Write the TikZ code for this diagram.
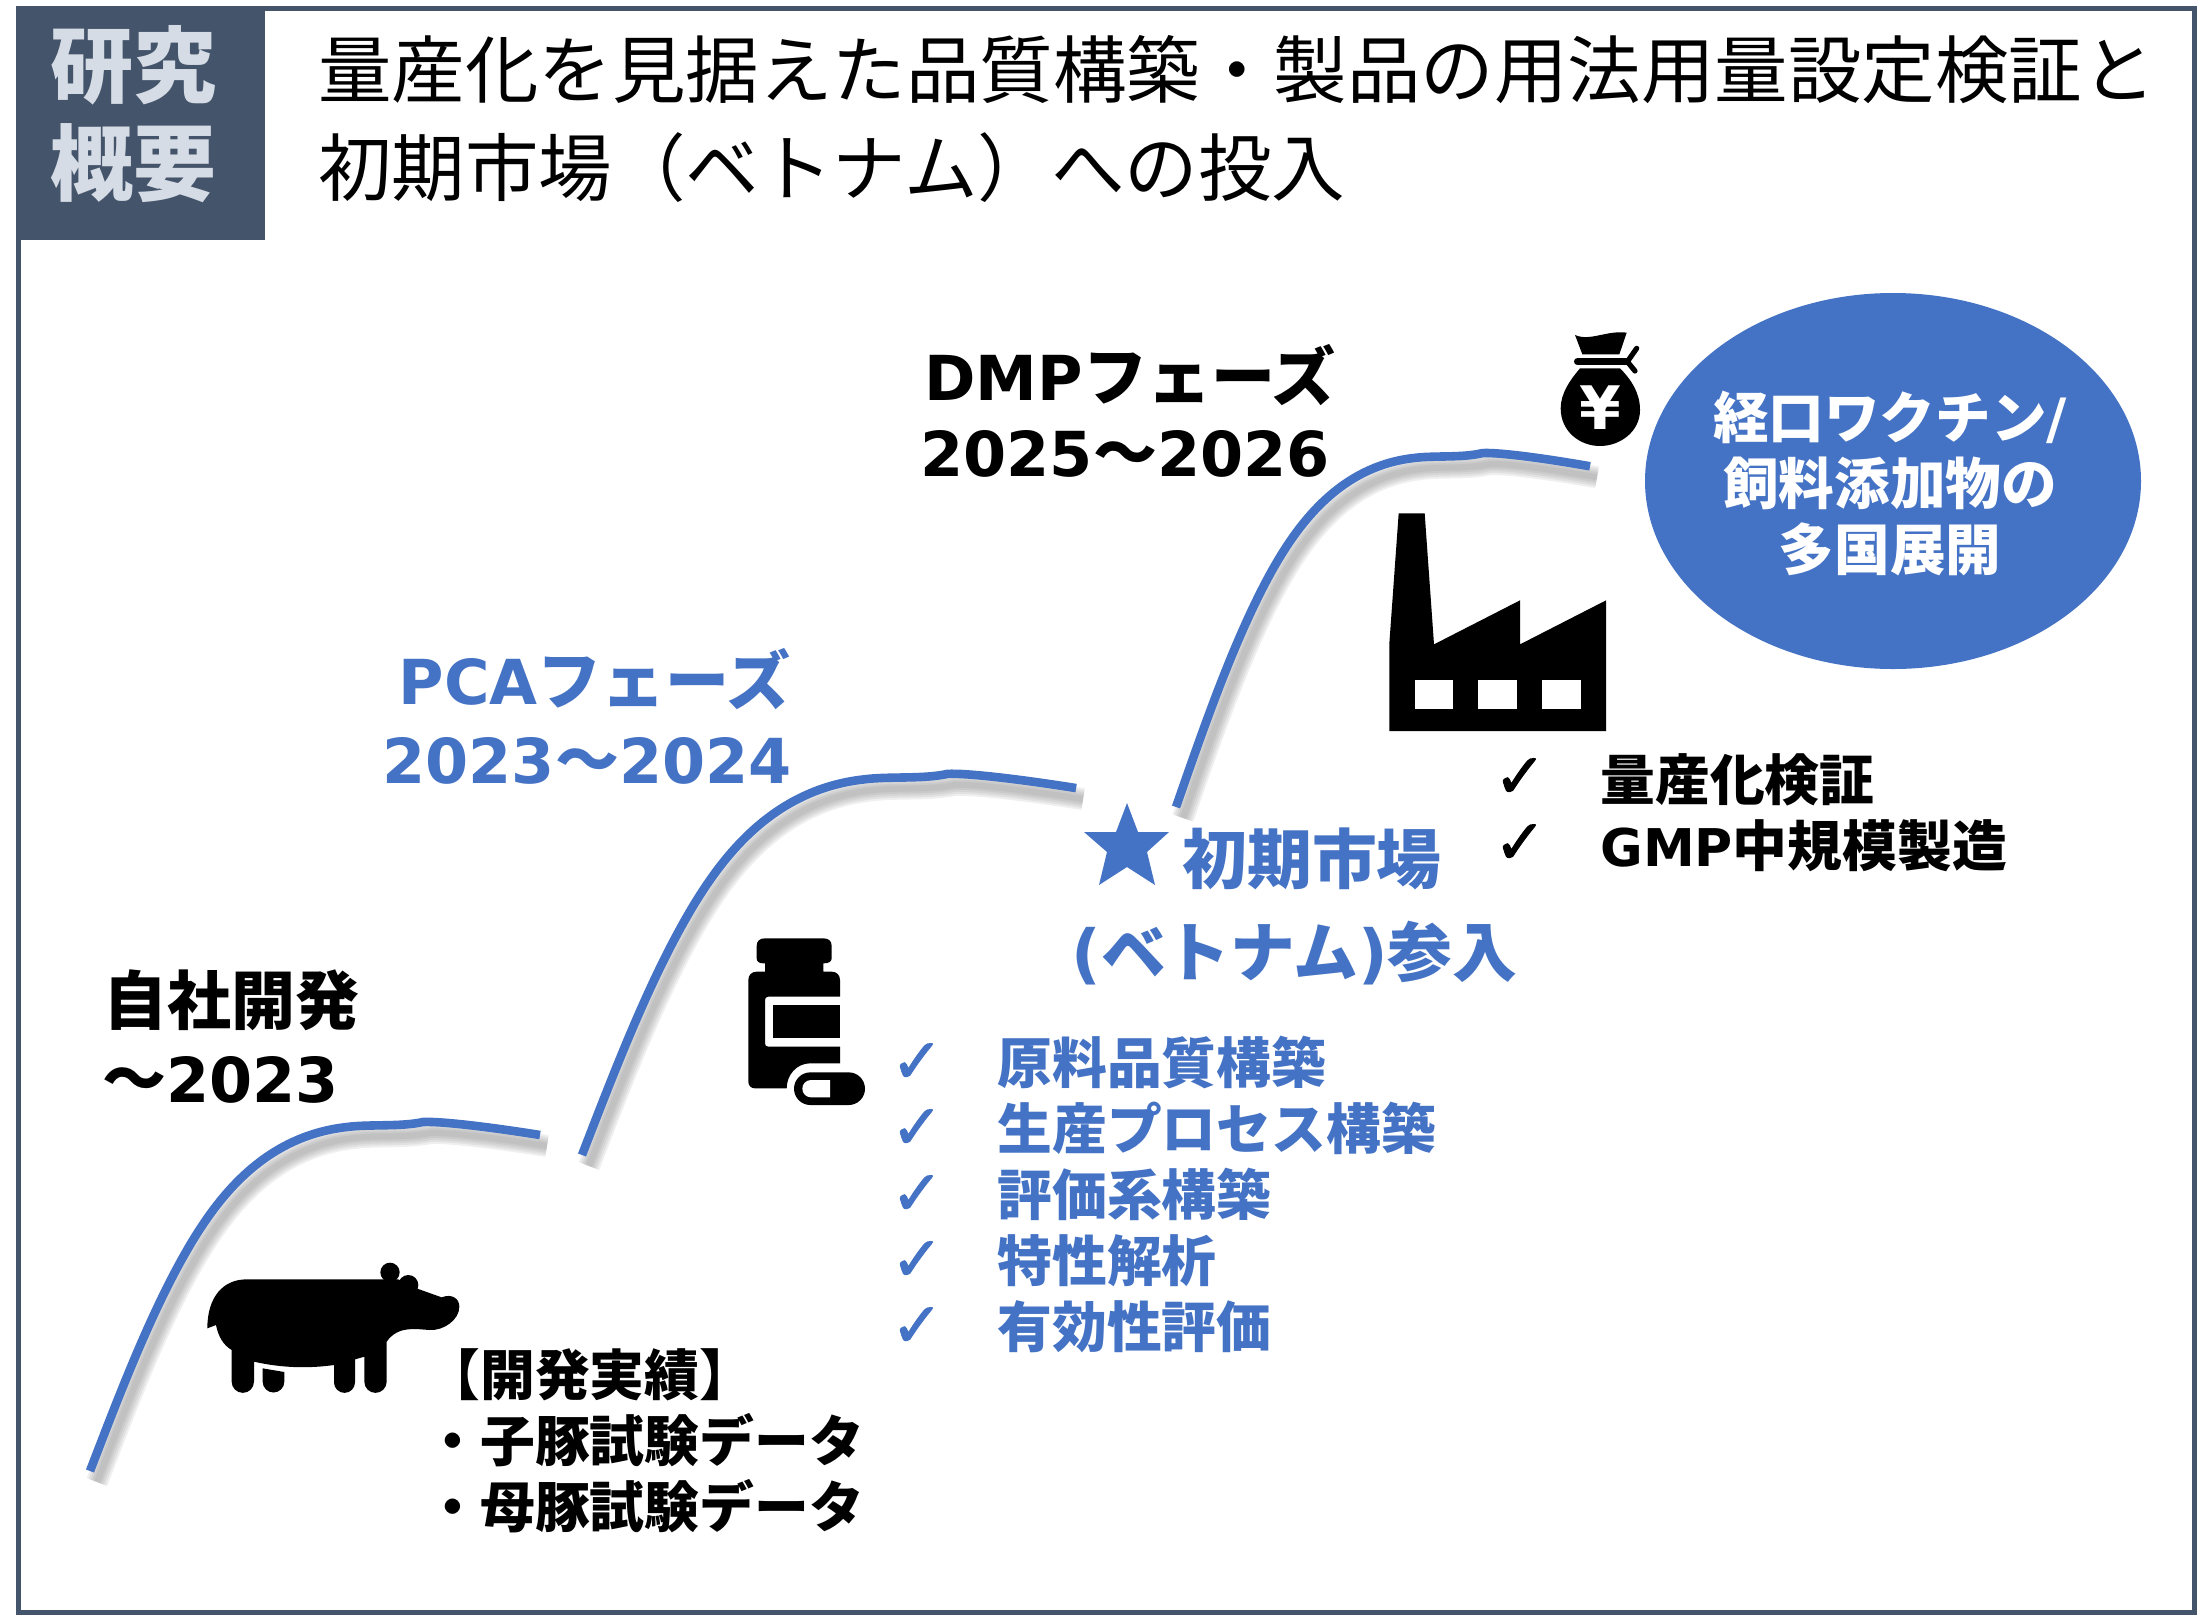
\documentclass[tikz,border=0pt]{standalone}
\usepackage{fontspec}
\setmainfont{Noto Sans CJK JP}
\newfontfamily\lat{DejaVu Sans}
\newfontfamily\tickfont[FakeBold=1.6]{DejaVu Sans}
\usetikzlibrary{shapes.geometric}
\definecolor{slate}{HTML}{44546A}
\definecolor{pale}{HTML}{D6DCE5}
\definecolor{accent}{HTML}{4472C4}
\newcommand{\sz}[1]{\fontsize{#1pt}{#1pt}\selectfont}
\newcommand{\curvepts}{(0,0) .. controls (30,-78) and (63,-165) .. (103,-231) .. controls (130,-275) and (175,-335) .. (257,-344) .. controls (280,-347) and (310,-344) .. (333,-349) .. controls (350,-350) and (400,-344) .. (450,-336)}
\newcommand{\growth}[4]{%
  \begin{scope}[shift={(#1+7,#2+11)},xscale=#3,yscale=#4]
  \foreach \w in {11,9,7,5,3}{\draw[gray,opacity=.12,line width=\w pt] \curvepts;}
  \end{scope}
  \begin{scope}[shift={(#1,#2)},xscale=#3,yscale=#4]
  \draw[accent,line width=4.3pt] \curvepts;
  \end{scope}}
\tikzset{
  x=0.5pt,y=-0.5pt,
  title/.style={anchor=west,inner sep=0,font=\sz{36.75},text height=32.3pt,text depth=4.4pt},
  head/.style={anchor=center,inner sep=0,text=pale,font=\sz{41.5}\bfseries,text height=36.5pt,text depth=5pt},
  phase/.style={inner sep=0,font=\sz{32}\bfseries,text height=28.2pt,text depth=3.8pt},
  item/.style={inner sep=0,anchor=west,font=\sz{27.4}\bfseries,text height=24.1pt,text depth=3.3pt},
  tick/.style={inner sep=0,anchor=center,font=\tickfont\sz{31}},
  market/.style={inner sep=0,anchor=west,text=accent,font=\sz{32.4}\bfseries,text height=28.5pt,text depth=3.9pt},
  oval/.style={inner sep=0,anchor=center,text=white,font=\sz{27.8}\bfseries,text height=24.5pt,text depth=3.3pt},
}
\begin{document}
\begin{tikzpicture}
\useasboundingbox (0,0) rectangle (2200,1617);
\fill[white] (0,0) rectangle (2200,1617);
% frame and header
\draw[slate,line width=2.5pt] (18,8) rectangle (2194,1612);
\fill[slate] (18,6) rectangle (265,240);
\node[head] (h1) at (133,65) {研究};
\node[head] (h2) at (133,163) {概要};
\node[title] (t1) at (318,70) {量産化を見据えた品質構築・製品の用法用量設定検証と};
\node[title] (t2) at (318,168) {初期市場（ベトナム）への投入};
% growth curves
\growth{90}{1471}{1}{1}
\growth{582}{1155}{1.098}{1.092}
\growth{1176}{807}{.92}{1.014}
% phase labels
\node[phase,anchor=west] (p1a) at (103,1000) {自社開発};
\node[phase,anchor=west] (p1b) at (102,1078) {～{\lat\sz{31}2023}};
\node[phase,anchor=east,text=accent] (p2a) at (791,680) {{\lat\sz{31}PCA}フェーズ};
\node[phase,anchor=east,text=accent] (p2b) at (792,759) {{\lat\sz{31}2023}～{\lat\sz{31}2024}};
\node[phase,anchor=west] (p3a) at (924,376) {{\lat\sz{31}DMP}フェーズ};
\node[phase,anchor=east] (p3b) at (1330,452) {{\lat\sz{31}2025}～{\lat\sz{31}2026}};
% hippo
\begin{scope}[shift={(150,1220)},x=0.16667pt,y=-0.16667pt]
\fill[black] (172,325) .. controls (172,230) and (220,178) .. (290,178) -- (700,178)
  -- (745,178) -- (805,207) -- (875,232) .. controls (905,220) and (928,235) .. (928,260)
  .. controls (928,300) and (880,332) .. (840,330) .. controls (800,328) and (745,315) .. (710,365)
  -- (710,485) arc[start angle=0,end angle=180,radius=33.5]
  -- (643,410) -- (615,418) -- (615,487) arc[start angle=0,end angle=180,radius=31.5]
  -- (552,435) .. controls (480,445) and (400,445) .. (312,425)
  -- (312,485) arc[start angle=0,end angle=180,radius=33.5]
  -- (245,390) .. controls (220,375) and (205,350) .. (198,315) -- cycle;
\fill[black] (720,157) circle[radius=29];
\fill[black] (775,195) circle[radius=30];
\fill[black] (338,445) -- (403,456) -- (403,485) arc[start angle=0,end angle=180,radius=32.5] -- cycle;
\end{scope}
% bottle
\begin{scope}[shift={(720,920)},x=0.16667pt,y=-0.16667pt]
\fill[black] (135,130) -- (130,130) .. controls (118,130) and (110,125) .. (110,115) -- (110,78)
  .. controls (110,62) and (120,55) .. (135,55) -- (310,55) .. controls (325,55) and (335,62) .. (335,78)
  -- (335,115) .. controls (335,125) and (325,130) .. (312,130) -- (310,130) -- (310,155)
  -- (335,155) .. controls (350,155) and (360,165) .. (360,180) -- (360,230) -- (145,230)
  .. controls (138,230) and (135,234) .. (135,240) -- (135,370) .. controls (135,376) and (138,380) .. (145,380)
  -- (360,380) -- (360,430) -- (270,430) .. controls (230,430) and (200,465) .. (200,505) -- (105,505)
  .. controls (93,505) and (85,497) .. (85,485) -- (85,180) .. controls (85,165) and (95,155) .. (110,155)
  -- (135,155) -- cycle;
\fill[black] (160,255) rectangle (360,355);
\fill[black] (271,457) -- (386,457) .. controls (413,457) and (435,479) .. (435,506)
  .. controls (435,533) and (413,555) .. (386,555) -- (271,555) .. controls (244,555) and (222,533) .. (222,506)
  .. controls (222,479) and (244,457) .. (271,457) -- cycle;
\fill[white] (330,480) -- (273,480) .. controls (258,480) and (247,492) .. (247,506)
  .. controls (247,520) and (258,532) .. (273,532) -- (330,532) -- cycle;
\end{scope}
% factory
\begin{scope}[shift={(1350,310)},x=0.16667pt,y=-0.16667pt]
\fill[black] (146,610) -- (224,610) -- (252,1003) -- (510,871) -- (510,1003) -- (768,871) -- (768,1263)
  -- (118,1263) -- (118,1000) -- cycle;
\fill[white] (194,1110) rectangle (309,1196);
\fill[white] (385,1110) rectangle (500,1196);
\fill[white] (577,1110) rectangle (692,1196);
% money bag
\fill[black] (675,75) .. controls (720,95) and (770,60) .. (830,68) -- (808,133) -- (697,133) -- cycle;
\draw[black,line width=3.4pt,line cap=round] (682,155) -- (830,155);
\draw[black,line width=2.6pt,line cap=round,line join=round] (860,115) -- (832,155) -- (855,183);
\fill[black] (690,175) -- (810,175) .. controls (845,210) and (870,250) .. (870,300)
  .. controls (870,365) and (810,408) .. (750,408) .. controls (690,408) and (632,365) .. (632,295)
  .. controls (632,250) and (660,210) .. (690,175) -- cycle;
\node[inner sep=0,text=white,font=\lat\sz{30}\bfseries] (yen) at (751,292) {¥};
\end{scope}
% oval
\node[ellipse,fill=accent,draw=none,minimum width=248pt,minimum height=188pt,inner sep=0] (goal) at (1893,481) {};
\node[oval] (g1) at (1890,417) {経口ワクチン{\lat/}};
\node[oval] (g2) at (1890,483) {飼料添加物の};
\node[oval] (g3) at (1890,549) {多国展開};
% development record
\node[item] (d1) at (425,1375) {【開発実績】};
\node[item] (d2) at (425,1441) {・子豚試験データ};
\node[item] (d3) at (425,1507) {・母豚試験データ};
% market entry
\fill[accent] (1127,803) -- (1138,832) -- (1169,832) -- (1147,852) -- (1155,885) -- (1127,867)
  -- (1099,885) -- (1107,852) -- (1084,832) -- (1116,832) -- cycle;
\node[market] (m1) at (1182,859) {初期市場};
\node[market] (m2) at (1071,952) {{\lat (}ベトナム{\lat )}参入};
% PCA list
\foreach \n/\yy/\label in {1/1063/原料品質構築,2/1129/生産プロセス構築,3/1195/評価系構築,4/1261/特性解析,5/1327/有効性評価}{
  \node[tick,text=accent] (bt\n) at (917,\yy) {✓};
  \node[item,text=accent] (bi\n) at (997,\yy) {\label};
}
% DMP list
\node[tick] (kt1) at (1520,778) {✓};
\node[tick] (kt2) at (1520,844) {✓};
\node[item] (k1) at (1600,780) {量産化検証};
\node[item] (k2) at (1600,846) {{\lat\sz{26}GMP}中規模製造};
\end{tikzpicture}
\end{document}
